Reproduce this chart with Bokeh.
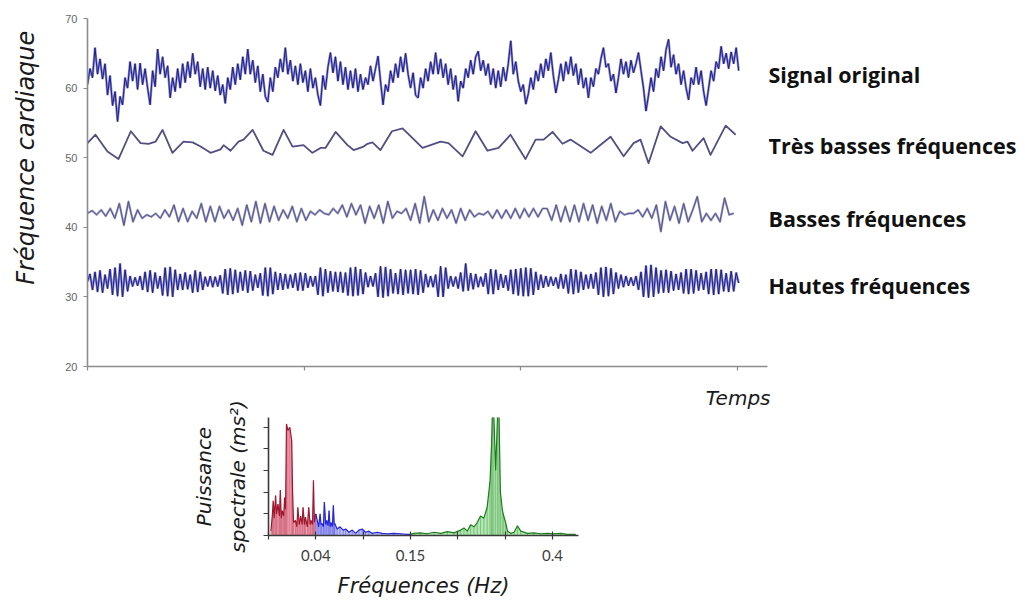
import numpy as np
from bokeh.plotting import figure
from bokeh.models import FixedTicker, Range1d, Spacer
from bokeh.layouts import column, row
from bokeh.embed import file_html
from bokeh.resources import INLINE
from bokeh.core.properties import value

# ---------------- data: time series (heart rate, bpm) ----------------
original = [
    60.5, 62.8, 61.5, 65.8, 62.0, 64.2, 61.3, 63.5, 59.0, 61.8, 57.5, 59.5,
    55.2, 58.8, 57.6, 61.5, 60.0, 63.8, 61.0, 63.5, 59.8, 63.6, 60.5, 62.8,
    60.0, 57.6, 62.5, 60.2, 65.6, 62.0, 64.5, 61.5, 63.2, 58.6, 61.5, 59.5,
    62.8, 60.0, 63.5, 60.8, 63.8, 61.5, 65.0, 62.0, 63.8, 60.2, 62.8, 59.8,
    63.0, 60.0, 62.5, 59.6, 61.8, 59.0, 60.5, 57.8, 61.5, 59.8, 63.0, 60.5,
    63.5, 61.2, 64.5, 62.0, 65.6, 62.0, 64.0, 60.8, 63.2, 59.5, 62.0, 58.8,
    58.0, 61.5, 59.5, 63.0, 61.5, 64.2, 62.3, 65.8, 62.0, 64.0, 61.0, 63.2,
    60.5, 63.5, 60.8, 62.5, 59.5, 62.8, 60.0, 61.5, 59.0, 57.5, 61.8, 59.8,
    63.0, 65.1, 62.2, 64.5, 61.0, 63.8, 60.5, 63.0, 59.8, 62.5, 60.0, 62.8,
    59.5, 62.0, 59.8, 61.5, 60.5, 63.2, 61.0, 62.8, 64.6, 61.0, 57.6, 60.5,
    59.5, 62.5, 60.8, 63.5, 61.5, 64.5, 62.3, 65.0, 62.0, 60.0, 62.2, 59.0,
    58.6, 61.5, 60.0, 62.8, 61.0, 63.8, 62.0, 65.1, 62.0, 64.2, 61.5, 63.5,
    60.5, 62.8, 59.8, 61.8, 58.1, 61.0, 60.0, 62.8, 61.5, 64.0, 62.0, 64.5,
    65.3, 62.5, 64.0, 61.8, 63.5, 60.5, 62.8, 60.0, 62.5, 60.2, 63.0, 61.0,
    63.5, 66.8, 62.0, 63.8, 61.0, 59.5, 60.5, 57.7, 59.2, 61.5, 59.8, 62.5,
    61.0, 63.5, 61.5, 64.2, 62.5, 65.1, 61.8, 59.3, 61.2, 63.5, 61.0, 63.8,
    62.0, 64.5, 61.8, 63.5, 60.5, 62.8, 60.0, 61.5, 58.6, 61.5, 60.2, 62.8,
    62.0, 64.2, 65.8, 63.0, 63.5, 61.0, 62.0, 59.3, 61.5, 64.2, 62.0, 63.8,
    61.5, 64.0, 62.2, 63.5, 65.1, 62.5, 60.0, 56.7, 59.0, 61.5, 59.5, 62.8,
    61.5, 64.5, 62.5, 65.5, 67.0, 63.0, 64.8, 62.0, 63.5, 60.5, 62.5, 60.0,
    58.3, 61.5, 60.5, 63.0, 60.5, 62.5, 59.5, 57.5, 60.0, 62.5, 61.0, 63.8,
    62.8, 66.0, 63.5, 65.0, 62.8, 65.2, 63.5, 65.8, 62.5,
]

vlf_t = [
    0.0, 3.7, 9.2, 14.3, 20.0, 24.5, 28.2, 31.4, 34.6, 39.2, 44.3, 48.5,
    52.2, 56.8, 61.4, 62.8, 66.0, 69.7, 72.0, 76.2, 81.2, 85.4, 90.5, 94.6,
    99.7, 103.8, 107.5, 109.8, 114.5, 120.0, 122.8, 127.4, 129.2, 131.5, 135.2,
    140.5, 145.4, 150.0, 154.6, 158.3, 162.9, 166.6, 173.1, 179.1, 184.6,
    189.7, 195.2, 202.1, 206.8, 210.5, 214.6, 219.2, 222.9, 232.2, 235.8,
    241.4, 247.4, 252.0, 255.2, 258.9, 264.5, 269.1, 274.6, 276.9, 279.2,
    284.3, 287.5, 294.5, 299.1,
]
vlf = [
    52.1, 53.3, 50.9, 49.8, 53.8, 52.1, 52.0, 52.3, 54.0, 50.7, 52.3, 52.2,
    51.6, 50.7, 51.2, 51.8, 51.0, 52.3, 52.6, 54.0, 51.0, 50.4, 54.0, 51.6,
    51.8, 50.7, 51.4, 51.4, 53.7, 51.8, 51.1, 51.6, 52.0, 52.2, 51.1,
    53.8, 54.2, 52.8, 51.4, 51.8, 52.3, 52.1, 50.2, 53.8, 51.0,
    51.4, 53.3, 49.8, 52.6, 52.6, 53.7, 52.0, 52.6, 50.7, 51.6,
    53.0, 50.2, 52.1, 52.6, 49.2, 54.5, 53.0, 52.1, 52.3, 51.0,
    52.8, 50.4, 54.6, 53.3,
]

lf = [
    42.0, 42.4, 41.8, 42.5, 41.6, 42.7, 41.3, 43.4, 40.3, 43.7,
    40.8, 42.5, 41.3, 41.8, 41.5, 42.0, 41.3, 42.5, 41.5, 43.2,
    40.8, 42.7, 40.8, 42.3, 41.3, 43.4, 40.8, 43.0, 40.8, 43.0,
    41.3, 42.5, 41.0, 42.7, 40.3, 43.2, 40.8, 43.7, 40.6, 43.4,
    40.8, 43.0, 41.0, 42.5, 41.3, 43.0, 40.8, 42.7, 41.0, 42.3,
    41.8, 42.5, 42.0,
    41.8, 42.7, 42.0, 43.2, 41.5, 43.4, 41.8, 43.2, 40.6, 43.0,
    41.3, 43.2, 40.6, 43.7, 41.3, 42.3, 42.0, 42.7, 41.0, 43.4,
    40.6, 44.4, 40.8, 42.5, 41.0, 42.7, 41.3, 42.5, 40.6, 42.7,
    41.0, 42.5, 41.5, 42.0, 41.8, 42.3, 41.3, 42.5, 41.3, 42.5,
    41.3, 42.7, 41.3, 42.7, 41.5, 42.7, 41.5, 42.7,
    42.7, 41.0, 43.2, 40.8, 43.0, 40.8, 43.2, 40.8, 43.4, 41.0,
    43.2, 40.6, 43.0, 41.0, 43.4, 40.8, 42.3, 41.8, 42.0, 42.0,
    42.5, 41.5, 42.7, 41.3, 43.2, 39.4, 43.7, 41.0, 43.0, 40.6,
    43.4, 40.8, 42.5, 44.4, 40.8, 42.0, 41.0, 42.0, 40.8, 44.2,
    41.8, 42.0,
]

hf = [
    32.2, 33.3, 31.0, 33.6, 30.7, 33.8, 30.6, 33.2, 31.2, 34.0, 30.3, 34.2,
    30.1, 34.8, 30.0, 33.9, 30.8, 33.0, 31.5, 32.8, 31.6, 33.0, 31.0, 33.6,
    30.7, 33.8, 30.6, 33.5, 31.2, 33.0, 30.2, 34.2, 30.1, 34.3, 30.0, 33.9,
    31.0, 33.3, 31.0, 33.5, 31.1, 33.2, 30.6, 33.8, 30.7, 33.6, 31.0, 32.9,
    31.5, 33.0, 31.4, 32.9, 31.5, 33.1, 30.5, 34.0, 30.3, 34.1, 30.4, 33.9,
    30.6, 33.6, 30.9, 33.8, 30.6, 33.7, 30.9, 33.2, 31.3, 33.4, 30.2, 34.2,
    30.1, 34.2, 30.4, 33.6, 31.0, 33.4, 31.0, 33.3, 31.2, 33.2, 31.3, 33.4,
    30.9, 33.5, 30.9, 33.4, 31.3, 33.0, 31.5, 33.0, 30.3, 34.2, 30.1, 34.0,
    30.6, 33.7, 30.8, 33.6, 30.7, 33.6, 30.6, 33.5, 30.2, 34.2, 30.1, 34.3,
    30.2, 34.0, 30.4, 33.5, 31.4, 33.0, 31.5, 33.4, 30.0, 34.4, 29.9, 34.3,
    30.1, 34.0, 30.5, 33.4, 30.4, 34.0, 30.3, 33.9, 30.5, 33.9, 30.4, 34.0,
    30.3, 33.8, 30.6, 33.3, 31.4, 33.0, 31.4, 33.2, 30.0, 34.4, 30.0, 34.2,
    31.2, 33.0, 31.5, 32.9, 31.2, 33.5, 30.8, 34.8, 30.9, 33.4, 31.1, 33.3,
    31.4, 32.9, 31.5, 33.4, 30.4, 34.0, 30.4, 33.9, 31.0, 33.3, 31.3, 33.1,
    30.9, 33.9, 30.4, 34.0, 30.2, 34.1, 30.1, 34.2, 30.1, 34.1, 30.3, 33.6,
    31.0, 33.2, 31.3, 33.0, 31.5, 32.9, 31.6, 32.8, 31.2, 33.3, 31.2, 33.2,
    30.5, 34.0, 30.4, 33.9, 30.6, 33.6, 31.0, 33.2, 31.2, 33.3, 31.2, 33.5,
    30.3, 34.2, 30.0, 34.3, 30.1, 34.1, 30.4, 33.5, 31.2, 33.2, 31.4, 33.0,
    31.6, 32.8, 31.6, 33.0, 31.0, 33.6, 30.0, 34.5, 29.9, 34.6, 30.0, 34.2,
    30.5, 33.8, 30.6, 33.9, 30.6, 33.7, 30.9, 33.3, 31.0, 33.5, 30.5, 34.0,
    30.4, 34.0, 30.5, 33.8, 30.9, 33.4, 31.0, 33.6, 30.4, 34.0, 30.3, 34.0,
    30.4, 33.9, 30.8, 33.4, 30.7, 33.7, 30.8, 33.5, 32.0,
]

series_labels = ["Signal original", "Très basses fréquences",
                 "Basses fréquences", "Hautes fréquences"]
series_label_levels = [62.0, 51.7, 41.2, 31.7]
time_ticks = [0, 100, 200, 300]
hr_ticks = [20, 30, 40, 50, 60, 70]

# ---------------- data: power spectrum ----------------
freq_labeled_pos = [1, 3, 6]
freq_unlabeled_pos = [0, 2, 4, 5]
freq_tick_labels = {1: "0.04", 3: "0.15", 6: "0.4"}
power_ticks = [0, 1, 2, 3, 4, 5]

vlf_f = [0.05, 0.08, 0.10, 0.12, 0.15, 0.17, 0.20, 0.23, 0.25, 0.27, 0.29, 0.32,
         0.34, 0.36, 0.38, 0.41, 0.45, 0.49, 0.51, 0.53, 0.57, 0.60, 0.62, 0.65,
         0.68, 0.71, 0.73, 0.76, 0.78, 0.82, 0.85, 0.88, 0.90, 0.93, 0.95, 0.97, 1.00]
vlf_p = [0.2, 0.9, 1.6, 0.8, 1.85, 1.0, 1.45, 0.9, 2.1, 0.8, 1.15, 0.9,
         1.75, 1.2, 5.15, 4.85, 5.0, 4.4, 1.9, 0.6, 0.7, 0.4, 1.3, 0.5,
         0.9, 0.5, 1.3, 0.5, 0.85, 0.4, 1.3, 0.5, 0.7, 0.5, 2.55, 0.6, 1.0]

lf_f = [1.00, 1.03, 1.06, 1.09, 1.11, 1.13, 1.16, 1.18, 1.21, 1.23, 1.26, 1.28,
        1.30, 1.32, 1.35, 1.37, 1.39, 1.40, 1.45, 1.51, 1.58, 1.63, 1.70, 1.77,
        1.84, 1.91, 1.98, 2.05, 2.12, 2.19, 2.30, 2.40, 2.51, 2.65, 2.79, 2.93, 3.00]
lf_p = [1.0, 0.7, 0.4, 1.0, 0.5, 0.55, 0.4, 1.55, 0.5, 0.7, 0.45, 1.15,
        0.4, 0.6, 0.4, 1.4, 0.5, 0.55, 0.3, 0.4, 0.25, 0.3, 0.15, 0.25,
        0.1, 0.25, 0.3, 0.15, 0.2, 0.1, 0.15, 0.1, 0.08, 0.1, 0.08, 0.05, 0.05]

hf_f = [3.00, 3.07, 3.21, 3.35, 3.50, 3.64, 3.78, 3.92, 4.06, 4.13, 4.20, 4.27,
        4.34, 4.41, 4.48, 4.55, 4.62, 4.68, 4.71, 4.73, 4.76, 4.80, 4.84, 4.87,
        4.90, 4.94, 4.97, 5.01, 5.05, 5.12, 5.19, 5.26, 5.33, 5.47, 5.61, 5.75,
        5.89, 6.03, 6.17, 6.31, 6.49]
hf_p = [0.05, 0.1, 0.12, 0.08, 0.15, 0.1, 0.18, 0.12, 0.25, 0.35, 0.2, 0.5,
        0.4, 0.6, 0.9, 0.8, 1.3, 2.5, 4.0, 5.6, 5.6, 3.0, 5.6, 5.6,
        2.0, 1.2, 0.9, 0.6, 0.2, 0.1, 0.15, 0.45, 0.2, 0.1, 0.12, 0.08,
        0.1, 0.08, 0.1, 0.05, 0.05]

LABEL_FONT = "DejaVu Sans"


def bare(width, height, x_range, y_range, top=0, bottom=0):
    p = figure(width=width, height=height, x_range=x_range, y_range=y_range,
               output_backend="svg", toolbar_location=None,
               x_axis_type=None, y_axis_type=None,
               min_border_left=0, min_border_right=0, min_border_top=top, min_border_bottom=bottom)
    p.outline_line_color = None
    p.grid.visible = False
    return p


# ---------------- top chart ----------------
hr_range = Range1d(20, 70)
top = figure(width=720, height=385, x_range=Range1d(0, 313.8), y_range=hr_range,
             output_backend="svg", toolbar_location=None,
             min_border_left=39, min_border_right=1, min_border_top=18, min_border_bottom=19)
top.outline_line_color = None
top.grid.visible = False

axis_grey = "#8c8c8c"
for ax in (top.xaxis[0], top.yaxis[0]):
    ax.axis_line_color = axis_grey
    ax.axis_line_width = 1.6
    ax.major_tick_line_color = axis_grey
    ax.major_tick_line_width = 1.2
    ax.major_tick_in = 0
    ax.major_tick_out = 4
    ax.minor_tick_line_color = axis_grey
    ax.minor_tick_line_width = 1.2
    ax.minor_tick_in = 0
    ax.minor_tick_out = 4
top.xaxis.ticker = FixedTicker(ticks=[], minor_ticks=time_ticks)
top.yaxis.ticker = FixedTicker(ticks=hr_ticks, minor_ticks=[])
top.yaxis.major_label_text_font = "Liberation Sans"
top.yaxis.major_label_text_font_size = "11px"
top.yaxis.major_label_text_color = "#666666"
top.yaxis.major_label_standoff = 6

t_orig = np.linspace(0, 300.5, len(original))
t_lf = np.linspace(0, 298.2, len(lf))
t_hf = np.linspace(0, 300.5, len(hf))

top.line(t_orig, original, line_color="#8a8ad0", line_width=2.4)
top.line(t_orig, original, line_color="#1e1e84", line_width=1.0)
top.line(vlf_t, vlf, line_color="#4f4f82", line_width=1.8, line_join="round")
top.line(t_lf, lf, line_color="#9a9ac8", line_width=2.2, line_join="round")
top.line(t_lf, lf, line_color="#505080", line_width=0.9, line_join="round")
top.line(t_hf, hf, line_color="#8a8ad0", line_width=2.4)
top.line(t_hf, hf, line_color="#1e1e84", line_width=1.0)

# y-axis title panel (shares the heart-rate scale)
ytitle = bare(48, 385, Range1d(0, 48), hr_range, top=18, bottom=19)
ytitle.text(x=[25], y=[50.0], text=["Fréquence cardiaque"], angle=np.pi / 2,
            text_font=value(LABEL_FONT), text_font_style="italic", text_font_size="24px",
            text_color="#1a1a1a", text_align="center", text_baseline="middle")

# series names panel (shares the heart-rate scale)
names = bare(257, 385, Range1d(0, 257), hr_range, top=18, bottom=19)
names.text(x=[0] * len(series_labels), y=series_label_levels, text=series_labels,
           text_font=value("Open Sans"), text_font_style="bold", text_font_size="21.5px",
           text_color="#111111", text_baseline="middle", text_align="left")

# ---------------- bottom chart (spectrum) ----------------
bot = figure(width=403, height=216, x_range=Range1d(0, 6.55), y_range=Range1d(0, 5.45),
             output_backend="svg", toolbar_location=None,
             min_border_left=83, min_border_right=10, min_border_top=32, min_border_bottom=66)
bot.outline_line_color = None
bot.grid.visible = False

dark = "#3a3a3a"
for ax in (bot.xaxis[0], bot.yaxis[0]):
    ax.axis_line_color = dark
    ax.axis_line_width = 1.6
    ax.major_tick_line_color = dark
    ax.major_tick_line_width = 1.2
    ax.minor_tick_line_color = dark
    ax.minor_tick_line_width = 1.2
bot.xaxis.ticker = FixedTicker(ticks=freq_labeled_pos, minor_ticks=freq_unlabeled_pos)
bot.xaxis.major_label_overrides = freq_tick_labels
bot.xaxis.major_tick_in = 4
bot.xaxis.major_tick_out = 4
bot.xaxis.minor_tick_in = 4
bot.xaxis.minor_tick_out = 4
bot.xaxis.major_label_text_font = "Lato"
bot.xaxis.major_label_text_font_size = "15px"
bot.xaxis.major_label_text_color = "#404040"
bot.xaxis.major_label_standoff = 10
bot.xaxis.axis_label = "Fréquences (Hz)"
bot.xaxis.axis_label_standoff = 10
bot.xaxis.axis_label_text_font = LABEL_FONT
bot.xaxis.axis_label_text_font_style = "italic"
bot.xaxis.axis_label_text_font_size = "21px"
bot.xaxis.axis_label_text_color = "#1a1a1a"

bot.yaxis.ticker = FixedTicker(ticks=[], minor_ticks=power_ticks)
bot.yaxis.minor_tick_in = 0
bot.yaxis.minor_tick_out = 5
bot.yaxis.axis_label = "Puissance\nspectrale (ms²)"
bot.yaxis.axis_label_standoff = 14
bot.yaxis.axis_label_text_font = LABEL_FONT
bot.yaxis.axis_label_text_font_style = "italic"
bot.yaxis.axis_label_text_font_size = "20px"
bot.yaxis.axis_label_text_line_height = 1.4
bot.yaxis.axis_label_text_color = "#1a1a1a"

bands = [
    (vlf_f, vlf_p, "#f4a6b8", "#a01830"),
    (lf_f, lf_p, "#bcbcf6", "#2424d8"),
    (hf_f, hf_p, "#b2e6b2", "#1d7d1d"),
]
for f, pw, fill, line in bands:
    bot.varea(x=f, y1=0, y2=pw, fill_color=fill, fill_alpha=1.0)
    bot.segment(x0=f, y0=[0] * len(f), x1=f, y1=pw, line_color=line, line_width=0.8, line_alpha=0.45)
    bot.line(f, pw, line_color=line, line_width=1.2)

# time-axis title panel, right-aligned under the end of the time axis
ttitle = bare(192, 216, Range1d(0, 192), Range1d(0, 216))
ttitle.text(x=[182], y=[204], text=["Temps"],
            text_font=value(LABEL_FONT), text_font_style="italic", text_font_size="20px",
            text_color="#1a1a1a", text_align="right", text_baseline="middle")

layout = column(
    row(column(ytitle), top, column(names), spacing=0),
    row(Spacer(width=185, height=216), bot, column(ttitle), spacing=0),
    spacing=0,
)
open("out.html", "w").write(file_html(layout, INLINE))
